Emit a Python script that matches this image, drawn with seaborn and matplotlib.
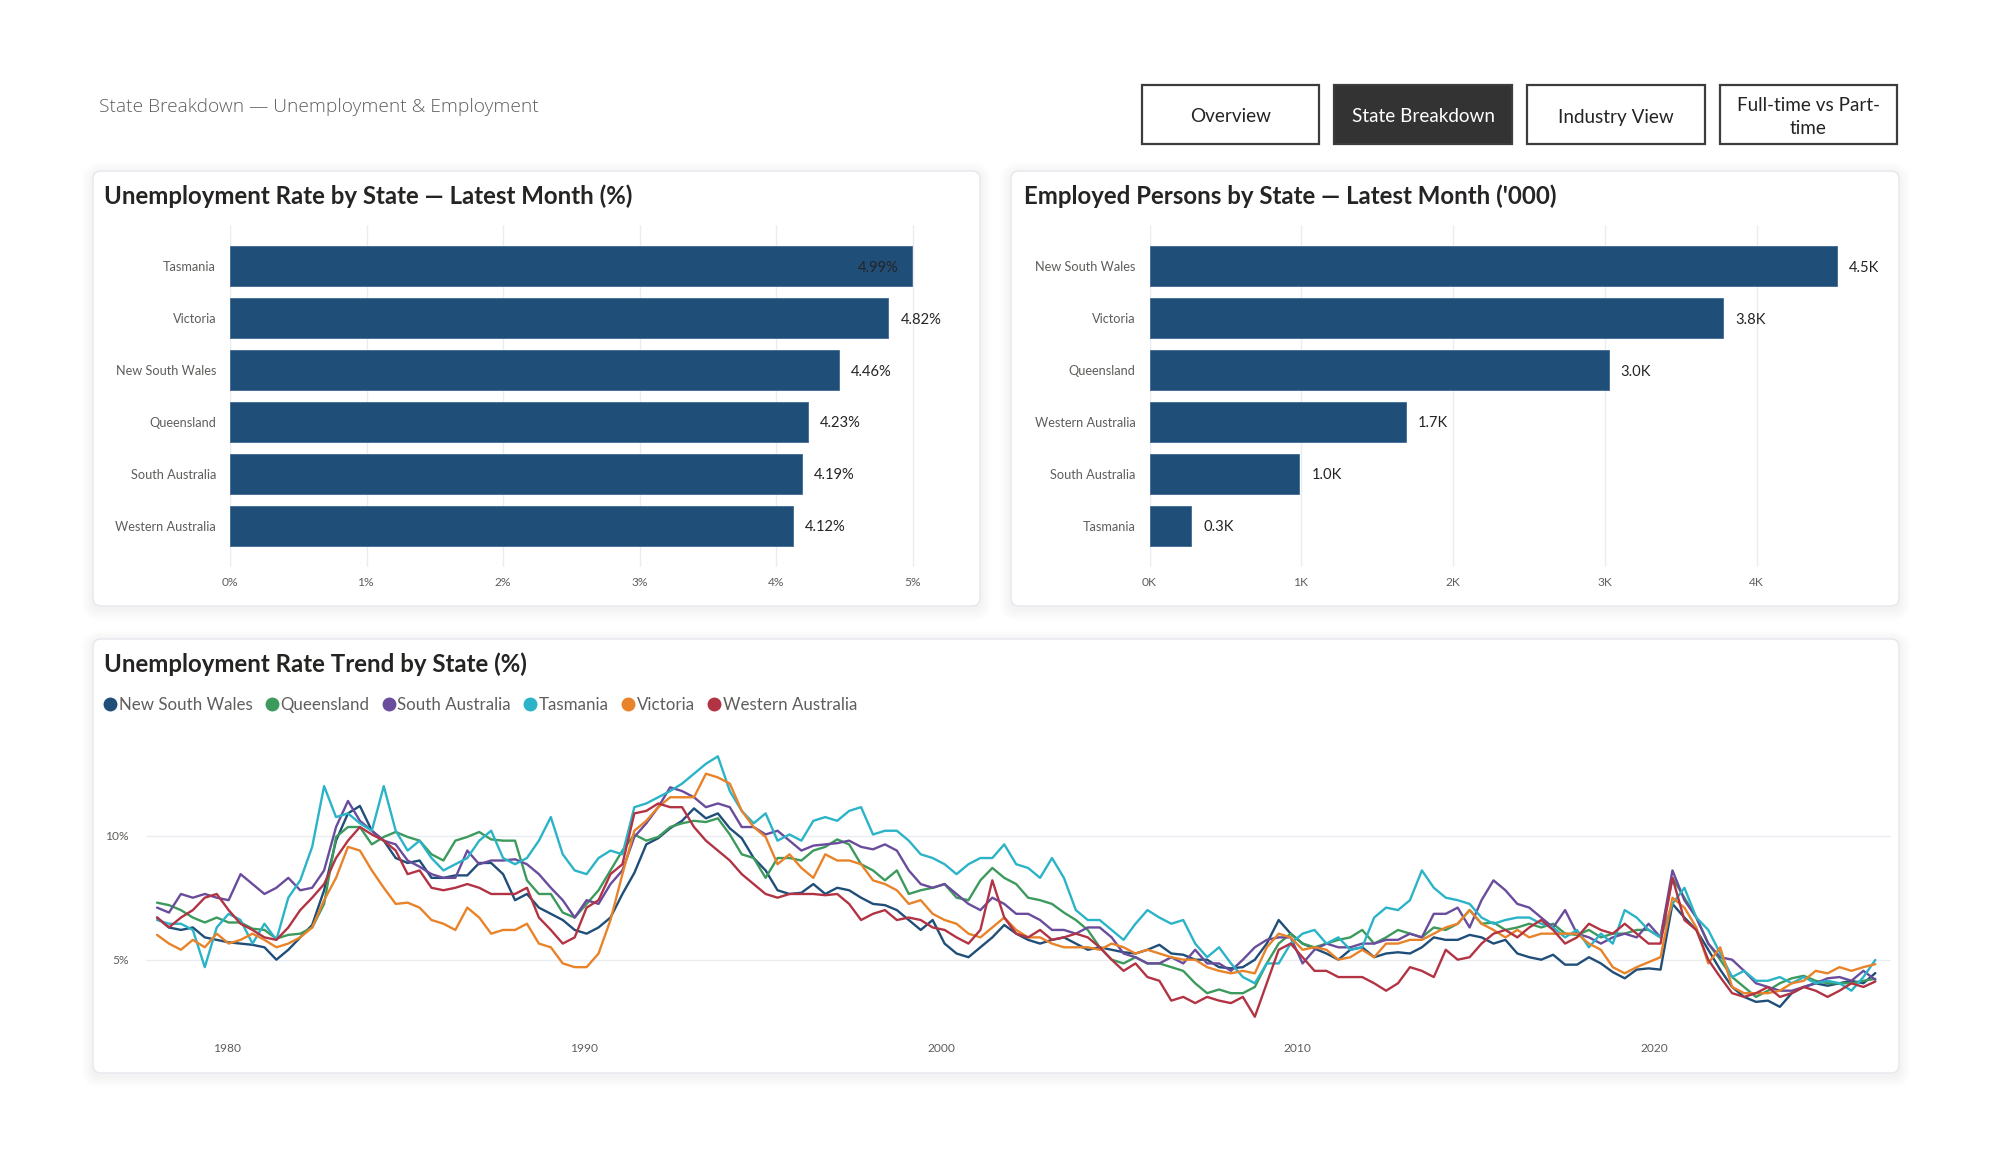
import numpy as np
import pandas as pd
import matplotlib
matplotlib.use("Agg")
import matplotlib.pyplot as plt
import seaborn as sns
from matplotlib.patches import FancyBboxPatch, Rectangle
from matplotlib.lines import Line2D
from matplotlib import transforms

# ---------------- data ----------------
header_text = "State Breakdown \u2014 Unemployment & Employment"
nav_buttons = ["Overview", "State Breakdown", "Industry View", "Full-time vs Part-\ntime"]
active_button = "State Breakdown"

title_rate = "Unemployment Rate by State \u2014 Latest Month (%)"
title_emp = "Employed Persons by State \u2014 Latest Month ('000)"
title_trend = "Unemployment Rate Trend by State (%)"

rate_states = ["Tasmania", "Victoria", "New South Wales", "Queensland", "South Australia", "Western Australia"]
rate_values = [4.99, 4.82, 4.46, 4.23, 4.19, 4.12]
rate_ticks = [0, 1, 2, 3, 4, 5]

emp_states = ["New South Wales", "Victoria", "Queensland", "Western Australia", "South Australia", "Tasmania"]
emp_values = [4530, 3780, 3025, 1690, 987, 276]          # '000 persons
emp_ticks = [0, 1000, 2000, 3000, 4000]

trend_states = ["New South Wales", "Queensland", "South Australia", "Tasmania", "Victoria", "Western Australia"]
trend_first_year = 1978.0
trend_last_year = 2026.2
trend_year_ticks = [1980, 1990, 2000, 2010, 2020]
trend_rate_ticks = [5, 10]

nsw = [6.7, 6.3, 6.2, 6.3, 5.9, 5.8, 5.7, 5.65, 5.6, 5.5, 5.0, 5.4, 5.9, 6.4, 7.8,
       9.8, 10.9, 11.2, 10.2, 9.8, 9.1, 8.9, 9.0, 8.3, 8.3, 8.4, 8.4, 8.9, 8.9, 8.45,
       7.4, 7.65, 7.1, 6.85, 6.6, 6.2, 6.05, 6.3, 6.7, 7.65, 8.5, 9.65, 9.9, 10.3, 10.6,
       11.1, 10.7, 10.9, 10.3, 9.9, 9.1, 8.6, 7.8, 7.65, 7.7, 8.05, 7.65, 7.9, 7.8, 7.5,
       7.25, 7.2, 7.0, 6.6, 6.2, 6.6, 5.65, 5.25, 5.1, 5.5, 5.9, 6.4, 6.05, 5.8, 5.65,
       5.8, 5.9, 5.65, 5.4, 5.5, 5.4, 5.3, 5.25, 5.4, 5.6, 5.25, 5.2, 5.0, 5.0, 4.7,
       4.65, 4.7, 5.0, 5.65, 6.6, 6.05, 5.65, 5.45, 5.25, 5.0, 5.4, 5.5, 5.1, 5.25, 5.3,
       5.25, 5.5, 5.9, 5.8, 5.8, 6.0, 5.9, 5.65, 5.8, 5.25, 5.1, 5.0, 5.2, 4.8, 4.8,
       5.1, 4.85, 4.5, 4.25, 4.6, 4.65, 4.6, 7.25, 6.7, 6.2, 5.4, 4.6, 3.9, 3.5, 3.3,
       3.35, 3.1, 3.65, 3.9, 4.05, 3.95, 4.05, 4.15, 4.05, 4.46]
qld = [7.3, 7.2, 7.0, 6.7, 6.5, 6.7, 6.5, 6.5, 6.25, 6.2, 5.85, 6.0, 6.05, 6.3, 7.25,
       9.95, 10.35, 10.35, 9.65, 9.95, 10.15, 9.95, 9.8, 9.25, 9.0, 9.8, 9.95, 10.15, 9.85, 9.8,
       9.8, 8.2, 7.65, 7.65, 6.9, 6.7, 7.25, 7.8, 8.6, 9.4, 10.05, 9.8, 9.95, 10.35, 10.5,
       10.6, 10.55, 10.7, 10.05, 9.25, 9.1, 8.3, 9.1, 9.1, 9.0, 9.4, 9.55, 9.85, 9.65, 8.85,
       8.6, 8.2, 8.6, 7.65, 7.8, 7.9, 8.05, 7.5, 7.4, 8.2, 8.7, 8.3, 8.05, 7.5, 7.4,
       7.25, 6.9, 6.6, 6.2, 5.5, 5.0, 4.85, 5.1, 4.85, 4.85, 4.7, 4.55, 4.05, 3.65, 3.8,
       3.65, 3.65, 3.9, 4.85, 5.65, 6.05, 5.65, 5.5, 5.65, 5.8, 5.9, 6.2, 5.65, 5.9, 6.2,
       6.05, 5.9, 6.3, 6.2, 6.45, 7.0, 6.45, 6.5, 6.2, 6.3, 6.45, 6.3, 6.45, 6.05, 6.0,
       6.2, 5.9, 6.05, 6.05, 6.2, 6.2, 5.9, 8.3, 7.5, 6.7, 5.65, 5.0, 4.3, 3.9, 3.5,
       3.75, 4.05, 4.25, 4.35, 4.15, 4.05, 4.05, 4.05, 4.15, 4.23]
sa = [7.1, 6.9, 7.65, 7.5, 7.65, 7.5, 7.4, 8.45, 8.05, 7.65, 7.9, 8.3, 7.8, 7.9, 8.6,
      10.35, 11.4, 10.6, 10.2, 9.8, 9.65, 9.0, 8.75, 8.45, 8.3, 8.3, 9.4, 8.85, 9.0, 9.0,
      9.05, 8.85, 8.45, 7.9, 7.4, 6.7, 7.4, 7.25, 8.05, 8.6, 9.95, 10.5, 11.15, 11.95, 11.8,
      11.55, 11.15, 11.3, 11.15, 10.35, 10.35, 10.05, 10.2, 9.8, 9.4, 9.6, 9.65, 9.7, 9.8, 9.55,
      9.45, 9.65, 9.4, 8.6, 8.05, 7.9, 8.05, 7.65, 7.25, 7.0, 7.5, 7.25, 6.85, 6.85, 6.6,
      6.2, 6.2, 6.05, 6.3, 6.3, 5.9, 5.25, 5.1, 4.85, 4.85, 5.1, 4.85, 5.4, 4.85, 4.85,
      4.55, 5.0, 5.5, 5.8, 5.9, 5.9, 4.85, 5.4, 5.65, 5.5, 5.5, 5.65, 5.65, 5.8, 5.8,
      6.05, 5.9, 6.85, 6.85, 7.1, 6.3, 7.4, 8.2, 7.8, 7.25, 7.1, 6.7, 6.3, 7.0, 6.05,
      5.9, 5.65, 5.9, 6.05, 5.9, 6.45, 5.9, 8.6, 7.4, 6.7, 5.65, 5.1, 5.0, 4.55, 4.05,
      3.9, 3.75, 3.75, 3.9, 4.05, 4.25, 4.3, 4.15, 4.55, 4.19]
tas = [6.6, 6.45, 6.45, 6.2, 4.7, 6.3, 6.85, 6.6, 5.65, 6.45, 5.8, 7.5, 8.2, 9.55, 12.0,
       10.75, 10.9, 10.5, 10.2, 12.0, 10.2, 9.4, 9.8, 9.1, 8.6, 8.85, 9.1, 9.8, 10.2, 9.1,
       8.85, 9.1, 9.8, 10.75, 9.25, 8.6, 8.45, 9.1, 9.4, 9.25, 11.15, 11.3, 11.55, 11.8, 12.1,
       12.5, 12.9, 13.2, 11.8, 11.0, 10.5, 10.9, 9.8, 10.05, 9.8, 10.6, 10.75, 10.6, 11.0, 11.15,
       10.05, 10.2, 10.2, 9.8, 9.25, 9.1, 8.85, 8.45, 8.85, 9.1, 9.1, 9.65, 8.85, 8.7, 8.3,
       9.1, 8.3, 7.0, 6.6, 6.6, 6.2, 5.8, 6.45, 7.0, 6.7, 6.45, 6.6, 5.65, 5.1, 5.5,
       4.85, 4.3, 4.05, 4.85, 4.85, 5.65, 6.05, 6.2, 5.65, 5.9, 5.4, 5.5, 6.7, 7.1, 7.0,
       7.4, 8.6, 7.9, 7.5, 7.4, 7.25, 6.7, 6.45, 6.6, 6.7, 6.7, 6.45, 6.3, 5.9, 6.2,
       5.5, 6.05, 5.65, 7.0, 6.7, 6.2, 5.9, 7.25, 7.9, 6.7, 6.2, 5.25, 4.3, 4.55, 4.15,
       4.15, 4.3, 4.05, 4.3, 4.05, 4.15, 4.05, 3.75, 4.3, 4.99]
vic = [6.0, 5.65, 5.4, 5.8, 5.5, 6.05, 5.65, 5.8, 6.05, 5.8, 5.5, 5.65, 5.9, 6.3, 7.4,
       8.3, 9.55, 9.4, 8.6, 7.9, 7.25, 7.3, 7.1, 6.6, 6.45, 6.2, 7.1, 6.7, 6.05, 6.2,
       6.2, 6.45, 5.65, 5.5, 4.85, 4.7, 4.7, 5.25, 6.6, 8.45, 10.2, 10.6, 11.15, 11.55, 11.55,
       11.55, 12.5, 12.35, 12.1, 11.0, 10.35, 9.95, 8.85, 9.25, 8.7, 8.3, 9.25, 9.0, 9.0, 8.85,
       8.2, 8.05, 7.8, 7.25, 7.4, 6.85, 6.6, 6.45, 6.05, 5.9, 6.3, 6.7, 6.2, 5.9, 5.9,
       5.65, 5.5, 5.5, 5.5, 5.4, 5.65, 5.5, 5.25, 5.4, 5.25, 5.1, 5.0, 5.0, 4.7, 4.55,
       4.45, 4.55, 4.45, 5.5, 6.05, 5.9, 5.4, 5.5, 5.4, 5.0, 5.1, 5.4, 5.1, 5.65, 5.65,
       5.8, 5.8, 6.05, 6.3, 6.45, 7.0, 6.45, 6.2, 5.9, 6.2, 5.9, 6.05, 6.05, 6.05, 6.05,
       5.65, 5.4, 4.7, 4.45, 4.7, 4.9, 5.1, 7.5, 7.1, 6.3, 4.85, 5.5, 3.9, 3.65, 3.65,
       3.65, 3.75, 4.05, 4.15, 4.55, 4.45, 4.7, 4.55, 4.7, 4.82]
wa = [6.7, 6.3, 6.7, 7.0, 7.5, 7.65, 7.0, 6.45, 6.2, 5.9, 5.8, 6.3, 7.0, 7.5, 8.05,
      9.1, 9.8, 10.35, 10.05, 9.8, 9.4, 8.45, 8.6, 7.9, 7.8, 7.9, 8.05, 7.9, 7.65, 7.65,
      7.65, 7.9, 6.7, 6.2, 5.65, 5.9, 7.1, 7.4, 8.45, 8.85, 10.9, 11.0, 11.3, 11.15, 11.15,
      10.35, 9.8, 9.4, 9.0, 8.45, 8.05, 7.65, 7.5, 7.65, 7.65, 7.65, 7.6, 7.65, 7.25, 6.6,
      6.85, 7.0, 6.6, 6.7, 6.6, 6.3, 6.2, 5.9, 5.65, 6.2, 8.2, 6.7, 6.05, 5.9, 6.2,
      5.8, 5.9, 6.05, 5.9, 5.5, 5.0, 4.55, 4.85, 4.3, 4.15, 3.35, 3.5, 3.25, 3.5, 3.35,
      3.25, 3.5, 2.7, 4.05, 5.4, 5.65, 5.1, 4.55, 4.55, 4.3, 4.3, 4.3, 4.05, 3.75, 4.05,
      4.7, 4.55, 4.3, 5.4, 5.0, 5.1, 5.65, 6.05, 6.2, 5.9, 6.3, 6.6, 6.2, 5.65, 5.9,
      6.45, 6.2, 6.05, 6.45, 6.05, 5.65, 5.65, 8.3, 6.6, 6.2, 5.0, 4.3, 3.65, 3.5, 3.65,
      3.9, 3.5, 3.65, 3.9, 3.75, 3.5, 3.75, 4.05, 3.9, 4.12]
trend_series = [nsw, qld, sa, tas, vic, wa]

# ---------------- style ----------------
BAR = "#1f4e79"
palette = {"New South Wales": "#1f4e79", "Queensland": "#3d9a5d", "South Australia": "#6a4c9c",
           "Tasmania": "#2bb3c8", "Victoria": "#e8832a", "Western Australia": "#b23444"}
TXT = "#252423"
GREY = "#605e5c"
GRID = "#eaecf0"

sns.set_theme(style="white")
FONT = ["Lato", "DejaVu Sans"]
HEAD_FONT = ["Open Sans", "DejaVu Sans"]
plt.rcParams["font.family"] = FONT

W, H = 1992, 1152
fig = plt.figure(figsize=(W / 100, H / 100), dpi=100, facecolor="white")
R = fig.canvas.get_renderer()


def prect(x0, y0, x1, y1):
    return [x0 / W, 1 - y1 / H, (x1 - x0) / W, (y1 - y0) / H]


def fit(s, target, weight="normal", family=None):
    t = fig.text(0, 0, s, fontsize=20, fontweight=weight, family=family or FONT)
    w = t.get_window_extent(renderer=R).width
    t.remove()
    return 20 * target / w


bg = fig.add_axes([0, 0, 1, 1], zorder=0)
bg.set_xlim(0, W)
bg.set_ylim(H, 0)
bg.axis("off")


def card(x0, y0, x1, y1):
    for k in range(12, 0, -1):
        bg.add_patch(FancyBboxPatch((x0 - k, y0 - k + 3), (x1 - x0) + 2 * k, (y1 - y0) + 2 * k,
                                    boxstyle=f"round,pad=0,rounding_size={8 + k}",
                                    fc="#20304f", ec="none", alpha=0.005))
    bg.add_patch(FancyBboxPatch((x0, y0), x1 - x0, y1 - y0, boxstyle="round,pad=0,rounding_size=8",
                                fc="white", ec="#e4e7ec", lw=1.0))


card(93, 171, 980, 606)
card(1011, 171, 1899, 606)
card(93, 639, 1899, 1073)

# header
bg.text(99, 112, header_text, fontsize=fit(header_text, 439, "light", HEAD_FONT), fontweight="light",
        family=HEAD_FONT, color=GREY, va="baseline", ha="left")

# nav buttons
btn_x = [(1142, 1319), (1334, 1512), (1527, 1705), (1720, 1897)]
bfs = fit("State Breakdown", 143)
for lab, (a, b) in zip(nav_buttons, btn_x):
    act = lab == active_button
    bg.add_patch(Rectangle((a, 85), b - a, 59, fc="#333333" if act else "white", ec="#3c3c3c", lw=1.6))
    bg.text((a + b) / 2, 117, lab, ha="center", va="center", fontsize=bfs,
            color="white" if act else TXT, linespacing=1.45)

# card titles
tfs = fit(title_rate, 529, "bold")
bg.text(104, 196, title_rate, fontsize=tfs, fontweight="bold", color=TXT, va="center")
bg.text(1024, 196, title_emp, fontsize=tfs, fontweight="bold", color=TXT, va="center")
bg.text(104, 664, title_trend, fontsize=tfs, fontweight="bold", color=TXT, va="center")

cat_fs = fit("New South Wales", 101)
val_fs = fit("4.82%", 41)
tick_fs = fit("10%", 23.6)
leg_fs = fit("New South Wales", 134)


def style_bar_axes(ax):
    ax.set_facecolor("none")
    for s in ax.spines.values():
        s.set_visible(False)
    ax.set_xlabel("")
    ax.set_ylabel("")
    ax.grid(axis="x", color=GRID, lw=1.0)
    ax.grid(axis="y", visible=False)
    ax.set_axisbelow(True)
    ax.tick_params(axis="both", length=0)
    ax.tick_params(axis="y", labelsize=cat_fs, labelcolor=GREY, pad=10)
    ax.tick_params(axis="x", labelsize=tick_fs, labelcolor=GREY, pad=7)


def value_labels(ax, values, fmt, ax_right_px):
    for i, v in enumerate(values):
        s = fmt(v)
        t = ax.text(v, i, s, fontsize=val_fs, color=TXT, va="center_baseline", ha="left",
                    transform=transforms.offset_copy(ax.transData, fig=fig, x=12, y=0, units="dots"))
        bb = t.get_window_extent(renderer=R)
        if bb.x1 > ax_right_px:
            t.set_transform(transforms.offset_copy(ax.transData, fig=fig, x=-13, y=0, units="dots"))
            t.set_ha("right")


# ---- bar chart 1
ax1 = fig.add_axes(prect(230, 225, 960, 567), zorder=2)
df_rate = pd.DataFrame({"state": rate_states, "rate": rate_values})
sns.barplot(data=df_rate, x="rate", y="state", orient="h", color=BAR, saturation=1,
            width=0.756, ax=ax1, edgecolor="#3d6a94", linewidth=0.6)
ax1.set_xlim(0, 730 / 136.6)
ax1.set_ylim(len(rate_states) - 1 + 0.79, -0.79)
ax1.set_xticks(rate_ticks)
ax1.set_xticklabels([f"{t}%" for t in rate_ticks])
style_bar_axes(ax1)
value_labels(ax1, rate_values, lambda v: f"{v:.2f}%", 960)

# ---- bar chart 2
ax2 = fig.add_axes(prect(1149.5, 225, 1880, 567), zorder=2)
df_emp = pd.DataFrame({"state": emp_states, "employed": emp_values})
sns.barplot(data=df_emp, x="employed", y="state", orient="h", color=BAR, saturation=1,
            width=0.756, ax=ax2, edgecolor="#3d6a94", linewidth=0.6)
ax2.set_xlim(0, 730.5 / 151.8 * 1000)
ax2.set_ylim(len(emp_states) - 1 + 0.79, -0.79)
ax2.set_xticks(emp_ticks)
ax2.set_xticklabels([f"{t // 1000}K" for t in emp_ticks])
style_bar_axes(ax2)
value_labels(ax2, emp_values, lambda v: f"{v / 1000:.1f}K", 1880)

# ---- trend line chart
rows = []
for name, ser in zip(trend_states, trend_series):
    yrs = np.linspace(trend_first_year, trend_last_year, len(ser))
    rows.append(pd.DataFrame({"year": yrs, "state": name, "rate": ser}))
df_trend = pd.concat(rows, ignore_index=True)

ax3 = fig.add_axes(prect(146, 730, 1891, 1030), zorder=2)
ax3.set_facecolor("none")
sns.lineplot(data=df_trend, x="year", y="rate", hue="state", hue_order=trend_states,
             palette=palette, linewidth=1.7, legend=False, ax=ax3)
ax3.set_xlim(1977.69, 2026.64)
ax3.set_ylim(10 - (1030 - 835.7) / 24.8, 10 + (835.7 - 730) / 24.8)
ax3.set_yticks(trend_rate_ticks)
ax3.set_yticklabels([f"{t}%" for t in trend_rate_ticks])
ax3.set_xticks(trend_year_ticks)
ax3.set_xticklabels([str(t) for t in trend_year_ticks])
ax3.set_xlabel("")
ax3.set_ylabel("")
for s in ax3.spines.values():
    s.set_visible(False)
ax3.grid(axis="y", color=GRID, lw=1.0)
ax3.grid(axis="x", visible=False)
ax3.set_axisbelow(True)
ax3.tick_params(axis="both", length=0, labelsize=tick_fs, labelcolor=GREY)
ax3.tick_params(axis="y", pad=12)
ax3.tick_params(axis="x", pad=9)

handles = [Line2D([], [], marker="o", ls="", ms=9, mfc=palette[n], mec=palette[n]) for n in trend_states]
leg = ax3.legend(handles, trend_states, loc="center left", bbox_to_anchor=(105 / W, 1 - 705 / H),
                 bbox_transform=fig.transFigure, ncol=6, frameon=False, handlelength=0.6,
                 handletextpad=0.2, columnspacing=0.85, borderaxespad=0, borderpad=0,
                 fontsize=leg_fs, labelcolor=GREY)

fig.savefig("out.png", dpi=100, facecolor="white")
